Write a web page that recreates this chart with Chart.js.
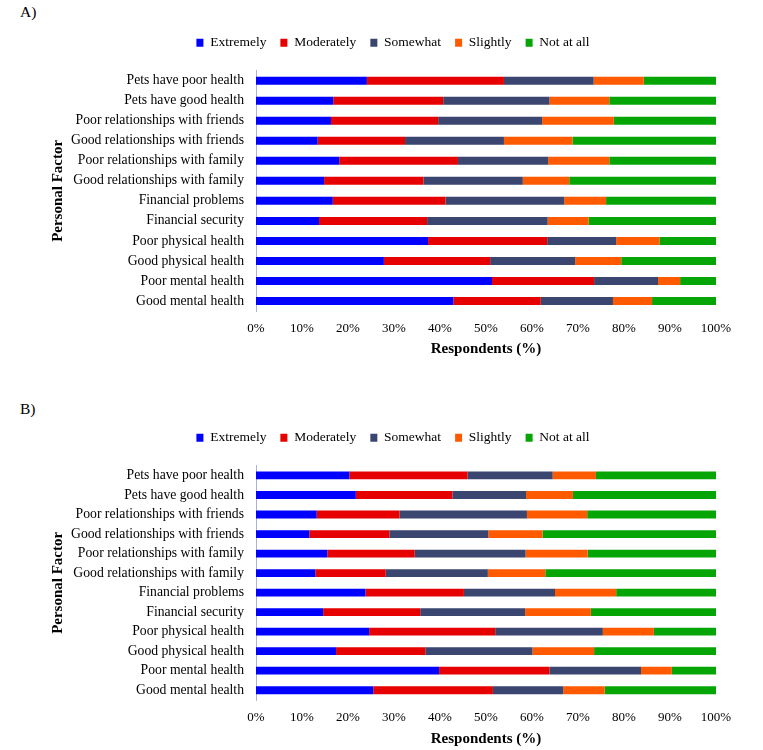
<!DOCTYPE html>
<html>
<head>
<meta charset="utf-8">
<script src="https://cdn.jsdelivr.net/npm/chart.js@4.4.0/dist/chart.umd.min.js"></script>
<style>
  body { margin: 0; background: #fff; width: 763px; height: 750px; position: relative; overflow: hidden; font-family: "Liberation Serif", serif; }
  .panel-label { position: absolute; left: 20px; font-size: 15.5px; color: #000; }
  .box { position: absolute; left: 0; width: 763px; }
</style>
</head>
<body>
<div class="panel-label" style="top:3px">A)</div>
<div class="box" style="top:22px;height:338px"><canvas id="chart-a"></canvas></div>
<div class="panel-label" style="top:400px">B)</div>
<div class="box" style="top:417px;height:333px"><canvas id="chart-b"></canvas></div>
<script>
// categories, top to bottom
const factors = [
  "Pets have poor health",
  "Pets have good health",
  "Poor relationships with friends",
  "Good relationships with friends",
  "Poor relationships with family",
  "Good relationships with family",
  "Financial problems",
  "Financial security",
  "Poor physical health",
  "Good physical health",
  "Poor mental health",
  "Good mental health",
];
const levels = ["Extremely", "Moderately", "Somewhat", "Slightly", "Not at all"];
const levelColors = ["#0000ff", "#e60000", "#3a4570", "#ff5a00", "#06a506"];
const xTicks = [0, 10, 20, 30, 40, 50, 60, 70, 80, 90, 100];

// panel A (%)
const aExtremely = [24.1, 16.8, 16.3, 13.4, 18.1, 14.8, 16.7, 13.7, 37.4, 27.8, 51.3, 42.9];
const aModerately = [29.8, 23.9, 23.3, 19.0, 25.8, 21.6, 24.5, 23.5, 25.9, 23.1, 22.2, 19.0];
const aSomewhat = [19.5, 23.1, 22.6, 21.5, 19.6, 21.6, 25.8, 26.2, 15.0, 18.5, 13.9, 15.7];
const aSlightly = [10.9, 13.0, 15.6, 14.9, 13.3, 10.1, 9.1, 8.9, 9.4, 10.0, 4.8, 8.5];
const aNotAtAll = [15.7, 23.2, 22.2, 31.2, 23.2, 31.9, 23.9, 27.7, 12.3, 20.6, 7.8, 13.9];

// panel B (%)
const bExtremely = [20.3, 21.7, 13.2, 11.6, 15.5, 12.9, 23.8, 14.6, 24.6, 17.4, 39.8, 25.5];
const bModerately = [25.7, 21.0, 18.0, 17.4, 19.0, 15.3, 21.4, 21.1, 27.4, 19.4, 24.0, 26.0];
const bSomewhat = [18.5, 16.0, 27.7, 21.5, 24.1, 22.2, 19.8, 22.8, 23.4, 23.3, 19.9, 15.3];
const bSlightly = [9.4, 10.2, 13.1, 11.8, 13.5, 12.5, 13.3, 14.3, 11.1, 13.4, 6.7, 9.0];
const bNotAtAll = [26.1, 31.1, 28.0, 37.7, 27.9, 37.1, 21.7, 27.2, 13.5, 26.5, 9.6, 24.2];

Chart.defaults.font.family = '"Liberation Serif", "Times New Roman", serif';
Chart.defaults.font.size = 13;
Chart.defaults.color = "#000";

// nudge the legend right, the source centres it a bit right of the canvas middle
const legendShift = {
  id: "legendShift",
  afterLayout: (chart) => {
    chart.legend.left += 35;
    chart.legend.right += 35;
  },
};

const makeChart = (id, series, xHeight, tickPad) => {
  new Chart(document.getElementById(id), {
    type: "bar",
    data: {
      labels: factors,
      datasets: series.map((values, i) => ({
        label: levels[i],
        data: values,
        backgroundColor: levelColors[i],
        borderWidth: 0,
        categoryPercentage: 1,
        barPercentage: 0.4,
      })),
    },
    plugins: [legendShift],
    options: {
      indexAxis: "y",
      responsive: true,
      maintainAspectRatio: false,
      animation: false,
      layout: { padding: { top: 0, right: 47, left: 0, bottom: 0 } },
      plugins: {
        legend: {
          position: "top",
          labels: { boxWidth: 7, boxHeight: 8, padding: 14, font: { size: 13.5 } },
        },
        subtitle: { display: true, text: "", font: { size: 1 }, padding: { top: 10, bottom: 0 }, weight: 500 },
        tooltip: { enabled: false },
      },
      scales: {
        x: {
          stacked: true,
          min: 0,
          max: 100,
          afterBuildTicks: (scale) => { scale.ticks = xTicks.map((v) => ({ value: v })); },
          afterFit: (scale) => { scale.height = xHeight; },
          grid: { display: false, drawTicks: false },
          border: { display: false },
          ticks: { padding: tickPad, callback: (v) => v + "%", maxRotation: 0, autoSkip: false },
          title: { display: true, text: "Respondents (%)", font: { size: 15, weight: "bold" }, padding: { top: 0, bottom: 2 } },
        },
        y: {
          stacked: true,
          afterFit: (scale) => { scale.width = 256; },
          grid: { display: false, drawTicks: false },
          border: { display: true, color: "#aab4d8", width: 1 },
          ticks: { padding: 12, autoSkip: false, font: { size: 13.7 } },
          title: { display: true, text: "Personal Factor", font: { size: 15, weight: "bold" }, padding: { top: 49, bottom: 0 } },
        },
      },
    },
  });
};

makeChart("chart-a", [aExtremely, aModerately, aSomewhat, aSlightly, aNotAtAll], 49, 10);
makeChart("chart-b", [bExtremely, bModerately, bSomewhat, bSlightly, bNotAtAll], 50, 10);
</script>
</body>
</html>
